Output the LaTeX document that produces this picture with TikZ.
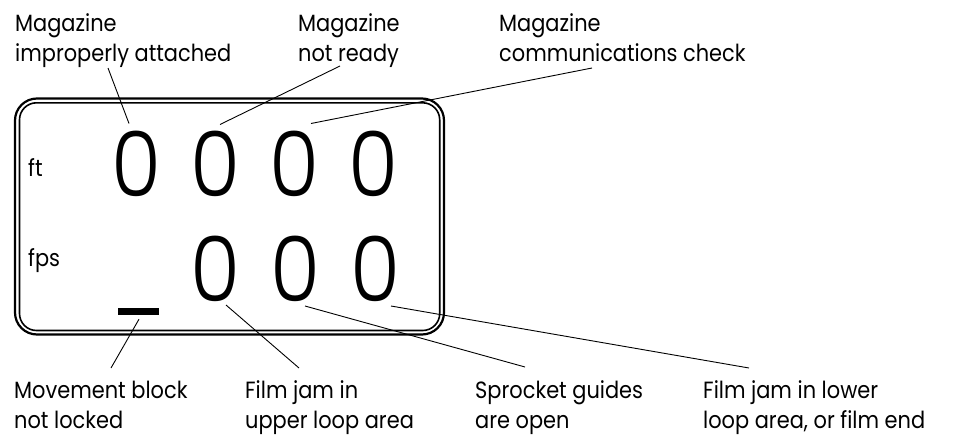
\documentclass[tikz,border=0pt]{standalone}
\usepackage{fontspec}
\setmainfont{Poppins}[FakeStretch=0.89]
\newfontfamily\digitfont{Poppins}[UprightFont={* Light},FakeStretch=0.9]
\usetikzlibrary{calc, positioning}

\tikzset{
  label/.style={anchor=base west, align=left, inner sep=0pt, font=\fontsize{23.5}{30}\selectfont},
  digit/.style={inner sep=0pt, font=\digitfont\fontsize{90}{90}\selectfont},
  leader/.style={line width=0.9pt},
}

\begin{document}
\begin{tikzpicture}[x=1pt,y=-1pt]
\useasboundingbox (0,0) rectangle (953,436);

% Display frame
\draw[line width=2.2pt, rounded corners=22pt] (15,98.5) rectangle (444,334.5);
\draw[line width=1.6pt, rounded corners=17pt] (19.5,102.8) rectangle (439.7,330.5);

% Units
\node[label] (ft) at (28,176) {ft};
\node[label] (fps) at (28,266) {fps};

% Digits
\foreach \i/\x in {1/136,2/215,3/294,4/373}
  \node[digit] (ft\i) at (\x,163.5) {0};
\foreach \i/\x in {2/215,3/295,4/375}
  \node[digit] (fps\i) at (\x,269) {0};
\node[fill, inner sep=0pt, minimum width=41pt, minimum height=7pt] (bar) at (138.5,311.5) {};

% Labels (anchored on the last line)
\node[label] (attached) at (15,62) {Magazine\\improperly attached};
\node[label] (notready) at (298,62) {Magazine\\not ready};
\node[label] (comms) at (499,62) {Magazine\\communications check};
\node[label] (movement) at (14,428) {Movement block\\not locked};
\node[label] (upper) at (245,428) {Film jam in\\upper loop area};
\node[label] (sprocket) at (475,428) {Sprocket guides\\are open};
\node[label] (lower) at (703,428) {Film jam in lower\\loop area, or film end};

% Leaders
\draw[leader] ([shift={(93,6)}]attached.base west) -- ([shift={(-7,-40)}]ft1.center);
\draw[leader] ([shift={(42,4)}]notready.base west) -- ([shift={(5,-39)}]ft2.center);
\draw[leader] ([shift={(93,6)}]comms.base west) -- ([shift={(17,-40)}]ft3.center);
\draw[leader] ([shift={(0.5,4)}]bar.south) -- ([shift={(97,-60)}]movement.base west);
\draw[leader] ([shift={(11,36)}]fps2.center) -- ([shift={(54,-60)}]upper.base west);
\draw[leader] ([shift={(10,37)}]fps3.center) -- ([shift={(50,-61)}]sprocket.base west);
\draw[leader] ([shift={(16,37)}]fps4.center) -- ([shift={(46,-60)}]lower.base west);
\end{tikzpicture}
\end{document}
